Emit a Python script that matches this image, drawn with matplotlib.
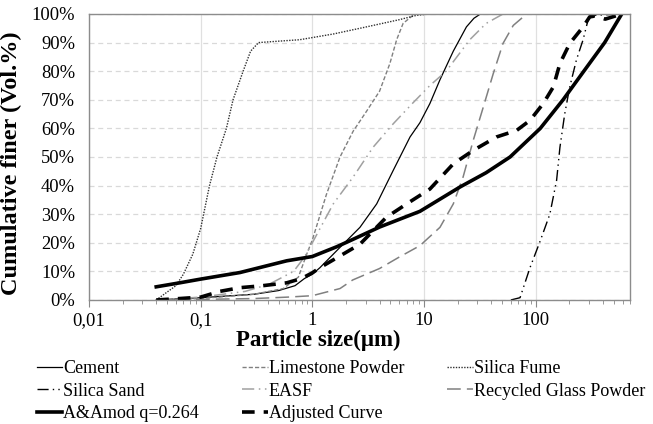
import matplotlib
matplotlib.use("Agg")
import matplotlib.pyplot as plt
from matplotlib.ticker import FixedLocator, LogLocator, NullFormatter, PercentFormatter

plt.rcParams['font.family'] = ['Liberation Serif', 'DejaVu Serif']

# particle size (um) and cumulative finer (%)
cement_x = [0.04, 0.1, 0.3, 0.5, 0.7, 0.85, 1.0, 1.17, 1.77, 2.67, 3.77, 5.3, 7.5, 9.2,
            11.3, 13.9, 18.3, 24, 28, 32]
cement_y = [0, 0.8, 2, 3.3, 5, 7.5, 9, 11.3, 18.4, 25.4, 33.6, 45.3, 57, 62,
            68.7, 77, 87, 95.5, 98.5, 100]

limestone_x = [0.04, 0.1, 0.3, 0.55, 0.75, 0.89, 1.0, 1.34, 1.77, 2.32, 3.06, 4.0, 4.95,
               5.69, 6.5, 8.0, 8.5]
limestone_y = [0, 0.5, 2, 4, 8, 16, 21, 37, 50, 59, 66, 73, 82.7,
               91, 96.7, 99.6, 100]

fume_x = [0.04, 0.06, 0.07, 0.085, 0.1, 0.12, 0.14, 0.17, 0.195, 0.24, 0.28, 0.33,
          0.5, 0.77, 1.54, 3.06, 6.0, 8.5, 11]
fume_y = [0, 5, 9, 16, 25, 40, 50, 60, 70, 80, 87, 90,
          90.5, 91, 93, 95.5, 98, 99.5, 100]

sand_x = [60, 72.5, 89, 110, 134, 154, 165, 182, 202, 232, 266, 295, 320, 600]
sand_y = [0, 0.8, 11.3, 20.7, 30, 41.8, 53.4, 65, 74.5, 84, 91, 98, 99.5, 100]

easf_x = [0.04, 0.1, 0.25, 0.41, 0.68, 0.85, 1.0, 1.54, 2.32, 3.5, 5.3, 8.0, 11.3,
          15.8, 25.7, 36, 51]
easf_y = [0, 1, 3, 5.5, 10, 15, 20, 33.6, 43, 53.4, 61.6, 69, 75,
          80, 91, 96.7, 100]

glass_x = [0.04, 0.1, 0.3, 0.6, 1.0, 1.77, 2.3, 4.0, 6.0, 9.2, 13.9, 18.3, 22.4,
           27.6, 34, 41.6, 51, 63, 83]
glass_y = [0, 0.2, 0.5, 1, 1.5, 4, 7, 11, 15, 19, 25.4, 33.6, 43,
           55.8, 67.5, 79, 89.7, 96, 100]

aa_x = [0.04, 0.065, 0.1, 0.225, 0.59, 1.0, 1.65, 2.17, 4.0, 9.2, 21, 36, 59, 110,
        176, 270, 415, 590]
aa_y = [4.6, 6, 7.3, 9.6, 13.7, 15.2, 18.6, 20.7, 25.5, 31, 39.5, 44.5, 50, 60,
        70, 80, 90, 100]

adj_x = [0.04, 0.065, 0.1, 0.148, 0.225, 0.36, 0.59, 0.8, 1.0, 1.17, 1.77, 2.67, 4.6,
         7.0, 11.3, 18.3, 27.6, 44.6, 67.6, 89, 117, 144, 165, 202, 266, 305, 340,
         420, 590]
adj_y = [0, 0.5, 1, 3, 4.3, 5, 6, 7.5, 9.5, 11.3, 15.4, 19.5, 28.9,
         33.6, 38.8, 47.6, 52.3, 57, 59.3, 62.8, 68.7, 74.5, 82.7, 89.7, 95.5, 99, 99.3,
         98.2, 100]

x_ticks = [0.01, 0.1, 1, 10, 100]
x_labels = ['0,01', '0,1', '1', '10', '100']

fig = plt.figure(figsize=(6.53, 4.24), dpi=100)
ax = fig.add_axes([0.1363, 0.2925, 0.8285, 0.6745])

ln_cem, = ax.plot(cement_x, cement_y, color='black', lw=0.9, label='Cement')
ln_lim, = ax.plot(limestone_x, limestone_y, color='#808080', lw=1.0, ls=(0, (3, 1.5)),
                  label='Limestone Powder')
ln_fum, = ax.plot(fume_x, fume_y, color='#303030', lw=1.0, ls=(0, (1, 1)), label='Silica Fume')
ln_san, = ax.plot(sand_x, sand_y, color='black', lw=1.0, ls=(0, (8, 3, 1, 3, 1, 3)),
                  label='Silica Sand')
ln_eas, = ax.plot(easf_x, easf_y, color='#a0a0a0', lw=1.1, ls=(0, (8, 3, 1, 3, 1, 3)),
                  label='EASF')
ln_gla, = ax.plot(glass_x, glass_y, color='#808080', lw=1.1, ls=(0, (9, 4)),
                  label='Recycled Glass Powder')
ln_aa, = ax.plot(aa_x, aa_y, color='black', lw=2.6, label='A&Amod q=0.264')
ln_adj, = ax.plot(adj_x, adj_y, color='black', lw=2.6, ls=(0, (3.5, 2.5)), label='Adjusted Curve')

ax.set_xscale('log')
ax.set_xlim(0.01, 700)
ax.set_ylim(0, 100)
ax.xaxis.set_major_locator(FixedLocator(x_ticks))
ax.set_xticklabels(x_labels)
ax.xaxis.set_minor_locator(LogLocator(base=10, subs=range(2, 10)))
ax.xaxis.set_minor_formatter(NullFormatter())
ax.set_yticks(range(0, 101, 10))
ax.yaxis.set_major_formatter(PercentFormatter(decimals=0))

ax.tick_params(axis='x', which='major', length=5, color='#888888', labelsize=13.3, pad=4)
ax.tick_params(axis='x', which='minor', length=3, color='#888888')
ax.tick_params(axis='y', length=0, labelsize=13.3, pad=10)

ax.grid(axis='y', color='#d9d9d9', ls=(0, (4, 3)), lw=0.9)
ax.grid(axis='x', which='major', color='#e0e0e0', lw=0.9)
ax.set_axisbelow(True)
for s in ax.spines.values():
    s.set_color('#8c8c8c')
    s.set_linewidth(1.0)

ax.set_xlabel('Particle size(μm)', fontsize=16.5, fontweight='bold')
ax.xaxis.set_label_coords(0.423, -0.104)
ax.set_ylabel('Cumulative finer (Vol.%)', fontsize=17.5, fontweight='bold')
ax.yaxis.set_label_coords(-0.124, 0.48)

# column-major fill so rows read left to right like the original
handles = [ln_cem, ln_san, ln_aa, ln_lim, ln_eas, ln_adj, ln_fum, ln_gla]
ax.legend(handles=handles, loc='upper left', bbox_to_anchor=(-0.096, -0.21), ncol=3,
          frameon=False, fontsize=13, handlelength=1.4, handletextpad=0.05,
          columnspacing=2.4, labelspacing=0.31, borderaxespad=0, borderpad=0)

fig.savefig('out.png', dpi=100)
